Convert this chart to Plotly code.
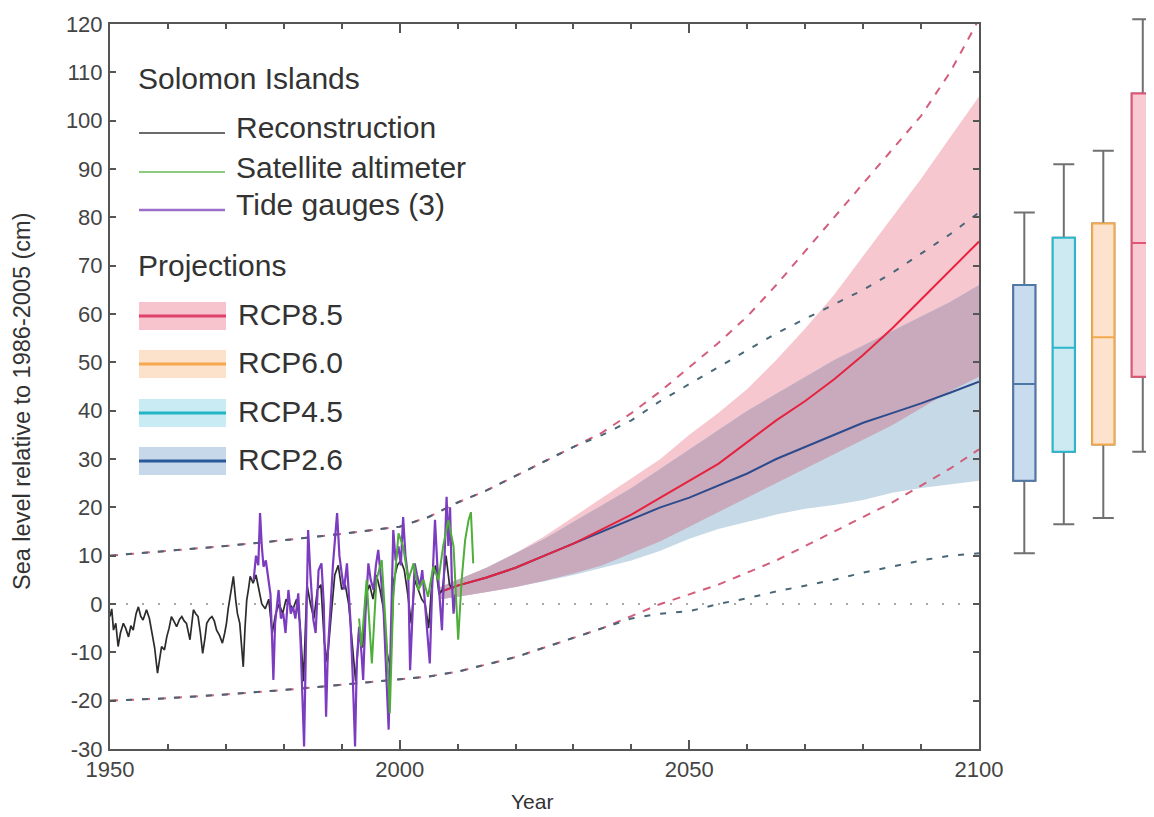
import plotly.graph_objects as go

# ---------------- data ----------------
recon_years = [1950.0, 1950.3, 1950.6, 1951.0, 1951.4, 1951.8, 1952.3, 1952.7, 1953.2, 1953.6, 1954.0, 1954.5,
               1954.9, 1955.3, 1955.7, 1956.3, 1956.8, 1957.2, 1957.7, 1958.2, 1958.6, 1958.9, 1959.4, 1959.8,
               1960.2, 1960.6, 1961.0, 1961.5, 1962.0, 1962.4, 1962.8, 1963.2, 1963.8, 1964.4, 1964.8, 1965.2,
               1965.6, 1966.0, 1966.4, 1966.7, 1967.2, 1967.6, 1968.0, 1968.4, 1968.9, 1969.4, 1969.8, 1970.1,
               1970.4, 1970.7, 1971.0, 1971.3, 1971.7, 1972.0, 1972.4, 1972.7, 1973.0, 1973.3, 1973.6, 1973.9,
               1974.2, 1974.7, 1975.2, 1975.7, 1976.2, 1976.8, 1977.4, 1978.0, 1978.6, 1979.2, 1979.8, 1980.4,
               1981.0, 1981.6, 1982.2, 1982.8, 1983.4, 1984.0, 1984.6, 1985.2, 1985.8, 1986.4, 1987.0, 1987.5,
               1988.2, 1988.8, 1989.4, 1990.0, 1990.6, 1991.2, 1991.8, 1992.4, 1993.0, 1993.6, 1994.2, 1994.8,
               1995.4, 1996.0, 1996.6, 1997.2, 1997.8, 1998.4, 1999.0, 1999.6, 2000.2, 2000.8, 2001.4, 2002.0,
               2002.6, 2003.2, 2003.8, 2004.4, 2005.0, 2005.6, 2006.2, 2006.8, 2007.4, 2008.0, 2008.6, 2009.2]
recon_values = [-2.6, -1, -5.4, -4, -8.8, -6, -4, -5, -6.8, -4.5, -5.4, -2,
                -0.6, -2.5, -3.3, -1.2, -3, -5.4, -9, -14.3, -11, -8.8, -9.5, -6.8,
                -5, -2.6, -3.5, -4.7, -3.2, -2.6, -3.5, -4, -7.4, -1.2, -2, -2.6,
                -6, -10.2, -7, -4, -3, -2.6, -3.5, -5.4, -6.5, -8.1, -6, -4,
                -1, 1.5, 3, 5.7, 0.8, -2, -4, -8, -13, -5, 0.8, 3,
                5.7, 4.3, 6, 3, 0, -1, 1, -6, -2, 0, -2, 1,
                0, -1, 1, -4, -16, 4, 0, -3, 3, 4, -8, -12,
                -2, 6, 8, 3, 4, 0, -8, -16, -5, -9, 2, 4,
                1, 6, 3, -1, -10, -13, 5, 8, 9, 7, 2, -4,
                5, 3, 1, 0, -5, 5, 8, 2, 3, 10, 4, 3]

tide_years = [1974.8, 1975.2, 1975.6, 1975.9, 1976.2, 1976.5, 1976.9, 1977.3, 1977.7, 1978.0, 1978.2, 1978.5,
              1978.8, 1979.1, 1979.5, 1979.9, 1980.3, 1980.8, 1981.2, 1981.6, 1982.0, 1982.5, 1982.9, 1983.2,
              1983.5, 1983.8, 1984.2, 1984.6, 1985.1, 1985.5, 1986.0, 1986.5, 1986.9, 1987.3, 1987.6, 1988.0,
              1988.5, 1989.2, 1989.6, 1990.0, 1990.4, 1990.9, 1991.2, 1991.5, 1991.9, 1992.3, 1992.6, 1993.0,
              1993.4, 1993.7, 1994.1, 1994.6, 1995.0, 1995.5, 1995.9, 1996.3, 1996.8, 1997.2, 1997.6, 1998.1,
              1998.5, 1998.9, 1999.3, 1999.8, 2000.2, 2000.6, 2001.0, 2001.5, 2001.8, 2002.2, 2002.6, 2003.0,
              2003.5, 2003.9, 2004.4, 2004.8, 2005.2, 2005.6, 2006.1, 2006.5, 2007.0, 2007.3, 2007.7, 2008.1,
              2008.4, 2008.7, 2009.0, 2009.3, 2009.6]
tide_values = [5, 10, 8, 18.8, 12, 7.7, 9, 5, 2, -8, -15.7, -4,
               0, 2.9, -3, -1.9, -6, 2.9, -2, -0.6, -3, 2.2, -8, -20,
               -29.5, -10, 15.3, 6, -3.3, -6, 7, 8.4, 0, -23.3, -10, -1.9,
               8.4, 18.8, 10, 6.3, 3, 8.4, 2, -3.3, -15, -29.5, -12, -4.7,
               -10, -15.7, -2, 8.4, 5, 2.9, 8, 11.2, 5, -0.6, -12, -26,
               -5, 15.3, 9, 11.9, 8, 18, 10, 5, -13.7, -2, 8.4, 6,
               3.6, 7, -0.6, -6, -12.3, 3, 17.4, 8, -1.9, -5.4, 8, 22.2,
               12, 20, 5, -2, 2]

sat_years = [1993.0, 1993.4, 1994.3, 1995.2, 1996.0, 1996.9, 1997.8, 1998.3, 1998.9, 1999.8, 2000.6, 2001.5,
             2002.4, 2003.2, 2004.1, 2004.9, 2005.8, 2006.7, 2007.5, 2008.4, 2009.3, 2010.1, 2010.7, 2011.3,
             2011.9, 2012.3, 2012.7]
sat_values = [-3, -8.8, 5, -12.3, 5, 9.1, -8.8, -22.6, 1.5, 14.6, 11.9, 5,
              8.4, 2.9, 5, 1.5, 7.7, 5, 11.9, 17.4, 11.9, -7.4, 5, 13.2,
              17.4, 19, 8.4]

proj_years = [2007, 2010, 2015, 2020, 2025, 2030, 2035, 2040, 2045, 2050,
              2055, 2060, 2065, 2070, 2075, 2080, 2085, 2090, 2095, 2100]
rcp85_median = [2.5, 3.8, 5.5, 7.5, 10, 12.5, 15.5, 18.5, 22, 25.5,
                29, 33.5, 38, 42, 46.5, 51.5, 57, 63, 69, 75]
rcp85_high = [3.5, 5, 7.5, 10.5, 14, 18, 22, 26, 30, 35,
              39.5, 44.5, 50.5, 57, 64, 72, 80, 88, 96.5, 105]
rcp85_low = [1, 1.5, 2.5, 3.5, 4.8, 6.3, 8, 10.5, 13, 16,
             19, 22, 25, 28, 31, 34, 37, 40.5, 44, 47]
rcp26_median = [2.5, 3.8, 5.5, 7.5, 10, 12.5, 15, 17.5, 20, 22,
                24.5, 27, 30, 32.5, 35, 37.5, 39.5, 41.5, 43.7, 46]
rcp26_high = [3.5, 5, 7.5, 10.5, 13.5, 17, 20.5, 24, 28, 32,
              36, 40, 43.5, 47, 50.5, 53.5, 56.5, 59.5, 62.5, 66]
rcp26_low = [1, 1.5, 2.5, 3.5, 4.7, 6, 7.5, 9, 11, 13.5,
             15.5, 17, 18.5, 19.7, 20.5, 21.5, 23, 24, 24.8, 25.5]

env_years = [1950, 1960, 1970, 1980, 1990, 2000, 2005, 2010, 2015, 2020, 2025, 2030, 2035,
             2040, 2045, 2050, 2055, 2060, 2065, 2070, 2075, 2080, 2085, 2090, 2095, 2100]
rcp85_env_high = [10, 11, 12, 13.2, 14.5, 16, 18, 21, 23.5, 26.5, 29.5, 32.5, 35.5,
                  39.5, 44, 49, 54, 59.5, 66, 73, 80, 87, 94, 101, 110, 121]
rcp26_env_high = [10, 11, 12, 13.2, 14.5, 16, 18, 21, 23.5, 26.5, 29.5, 32.5, 35,
                  38, 42, 45.5, 49, 52.5, 56, 59, 62, 65, 68.5, 72.5, 76.5, 81]
rcp85_env_low = [-20, -19.5, -18.7, -17.8, -16.7, -15.5, -15, -14, -12.5, -11, -9, -7, -5,
                 -2.5, 0, 2, 4, 6.5, 9, 12, 15, 18, 21, 24.5, 28, 32]
rcp26_env_low = [-20, -19.5, -18.7, -17.8, -16.7, -15.5, -15, -14, -12.5, -11, -9, -7, -5,
                 -3, -2, -1.5, 0, 1.2, 2.6, 3.8, 5, 6.5, 7.8, 9, 10, 10.5]

zero_years = [1950, 2100]
zero_values = [0, 0]

box_labels = ["RCP2.6", "RCP4.5", "RCP6.0", "RCP8.5"]
box_low = [10.5, 16.5, 17.8, 31.5]
box_q1 = [25.5, 31.5, 33, 47]
box_med = [45.5, 53, 55.2, 74.7]
box_q3 = [66, 75.8, 78.7, 105.6]
box_high = [81, 91, 93.8, 121]

x_ticks = [1950, 2000, 2050, 2100]
y_ticks = [-30, -20, -10, 0, 10, 20, 30, 40, 50, 60, 70, 80, 90, 100, 110, 120]
y_tick_text = [str(v) for v in y_ticks]

# ---------------- styling ----------------
FONT = "Liberation Sans, Arial, Helvetica, sans-serif"
OFF = 8                      # page body margin of the browser
W, H = 1154 - OFF, 817 - OFF
ML, MR, MT, MB = 110 - OFF, 0, 6, 68
PW, PH = W - ML - MR, H - MT - MB
AX = "#555555"
TXT = "#333333"
LEG = 30

def px(x):
    """reference-window pixel x -> paper fraction"""
    return (x - OFF - ML) / PW

def py(y):
    """reference-window pixel y -> paper fraction"""
    return 1 - (y - OFF - MT) / PH

box_fill = ["#c9dbee", "#cdeaf3", "#fde3cd", "#f8cbd3"]
box_line = ["#4f78a6", "#2cb8cc", "#f3aa4c", "#e05574"]

overlap_low = [max(a, b) for a, b in zip(rcp85_low, rcp26_low)]
overlap_high = [min(a, b) for a, b in zip(rcp85_high, rcp26_high)]

fig = go.Figure()

# zero reference line
fig.add_trace(go.Scatter(x=zero_years, y=zero_values, mode="lines",
                         line=dict(color="#a8a8a8", width=2, dash="2px,14px"), hoverinfo="skip"))

# bands
def band(low, high, color):
    fig.add_trace(go.Scatter(x=proj_years, y=low, mode="lines", line=dict(width=0),
                             hoverinfo="skip"))
    fig.add_trace(go.Scatter(x=proj_years, y=high, mode="lines", line=dict(width=0),
                             fill="tonexty", fillcolor=color, hoverinfo="skip"))

band(rcp85_low, rcp85_high, "#f7c7d0")
band(rcp26_low, rcp26_high, "#c6d9e6")
band(overlap_low, overlap_high, "#c9aabd")

# dashed envelopes
for vals in (rcp85_env_high, rcp85_env_low):
    fig.add_trace(go.Scatter(x=env_years, y=vals, mode="lines",
                             line=dict(color="#d35e7b", width=2, dash="8px,8px"), hoverinfo="skip"))
for vals in (rcp26_env_high, rcp26_env_low):
    fig.add_trace(go.Scatter(x=env_years, y=vals, mode="lines",
                             line=dict(color="#476676", width=2, dash="6px,10px"), hoverinfo="skip"))

# medians
fig.add_trace(go.Scatter(x=proj_years, y=rcp26_median, mode="lines",
                         line=dict(color="#2d4b8c", width=2), hoverinfo="skip"))
fig.add_trace(go.Scatter(x=proj_years, y=rcp85_median, mode="lines",
                         line=dict(color="#e6223e", width=2), hoverinfo="skip"))

# observations
fig.add_trace(go.Scatter(x=recon_years, y=recon_values, mode="lines",
                         line=dict(color="#2b2b2b", width=1.7), hoverinfo="skip"))
fig.add_trace(go.Scatter(x=tide_years, y=tide_values, mode="lines",
                         line=dict(color="#7b3cc0", width=2.2), hoverinfo="skip"))
fig.add_trace(go.Scatter(x=sat_years, y=sat_values, mode="lines",
                         line=dict(color="#4fae3a", width=2), hoverinfo="skip"))

# box plots for 2100
for i, lab in enumerate(box_labels):
    fig.add_trace(go.Box(x=[lab], q1=[box_q1[i]], median=[box_med[i]], q3=[box_q3[i]],
                         lowerfence=[box_low[i]], upperfence=[box_high[i]],
                         xaxis="x2", yaxis="y2", width=0.56, whiskerwidth=0.95,
                         line=dict(color="#707070", width=2), fillcolor=box_fill[i],
                         boxpoints=False, hoverinfo="skip"))
    fig.add_trace(go.Box(x=[lab], q1=[box_q1[i]], median=[box_med[i]], q3=[box_q3[i]],
                         lowerfence=[box_q1[i]], upperfence=[box_q3[i]],
                         xaxis="x2", yaxis="y2", width=0.56, whiskerwidth=0,
                         line=dict(color=box_line[i], width=2), fillcolor=box_fill[i],
                         boxpoints=False, hoverinfo="skip"))

# ---------------- legend (drawn) ----------------
shapes = []
annotations = []

def text(x, y, s, size):
    annotations.append(dict(x=px(x), y=py(y), xref="paper", yref="paper", text=s,
                            showarrow=False, xanchor="left", yanchor="middle",
                            font=dict(family=FONT, size=size, color=TXT)))

text(136, 78, "Solomon Islands", LEG)
obs_leg = [("Reconstruction", "#3a3a3a", 1.6, 133), ("Satellite altimeter", "#8fcb7f", 2, 172),
           ("Tide gauges (3)", "#9a6fcc", 2.5, 210)]
for name, col, wd, yy in obs_leg:
    shapes.append(dict(type="line", xref="paper", yref="paper", x0=px(139), x1=px(225),
                       y0=py(yy), y1=py(yy), line=dict(color=col, width=wd)))
    text(234, yy - 5, name, LEG)

text(136, 265, "Projections", LEG)
proj_leg = [("RCP8.5", "#f7c4cd", "#e0406a", 316), ("RCP6.0", "#fde2cb", "#f5a84e", 364),
            ("RCP4.5", "#c9ebf4", "#22b5c6", 413), ("RCP2.6", "#c6d8ea", "#2a5a9a", 461)]
for name, fc, lc, yy in proj_leg:
    shapes.append(dict(type="rect", xref="paper", yref="paper", x0=px(139), x1=px(226),
                       y0=py(yy - 14), y1=py(yy + 14), fillcolor=fc, line=dict(width=0), layer="above"))
    shapes.append(dict(type="line", xref="paper", yref="paper", x0=px(139), x1=px(226),
                       y0=py(yy), y1=py(yy), line=dict(color=lc, width=3), layer="above"))
    text(236, yy - 2, name, LEG)

# axis titles
annotations.append(dict(x=px(532), y=py(801), xref="paper", yref="paper", text="Year",
                        showarrow=False, xanchor="center", yanchor="middle",
                        font=dict(family=FONT, size=21, color=TXT)))
annotations.append(dict(x=px(22), y=py(401), xref="paper", yref="paper",
                        text="Sea level relative to 1986-2005 (cm)", textangle=-90,
                        showarrow=False, xanchor="center", yanchor="middle",
                        font=dict(family=FONT, size=23.5, color=TXT)))

y_top_frac = py(24)                     # main axis top at reference pixel 24
scale = (749 - 24) / 150.0              # pixels per cm

fig.update_layout(
    width=W, height=H,
    margin=dict(l=ML, r=MR, t=MT, b=MB, pad=0, autoexpand=False),
    paper_bgcolor="white", plot_bgcolor="white",
    showlegend=False,
    boxmode="overlay",
    font=dict(family=FONT, size=22, color=TXT),
    xaxis=dict(domain=[0, px(979)], range=[1950, 2100], tickvals=x_ticks,
               ticks="inside", ticklen=9, tickwidth=1.5, tickcolor=AX,
               showline=True, linecolor=AX, linewidth=2, mirror="ticks",
               showgrid=False, zeroline=False, ticklabelstandoff=0, automargin=False,
               minor=dict(tick0=1950, dtick=10, ticks="inside", ticklen=5, tickwidth=1.5,
                          tickcolor=AX, showgrid=False),
               tickfont=dict(family=FONT, size=22, color="#444444")),
    yaxis=dict(domain=[0, y_top_frac], range=[-30, 120], tickvals=y_ticks, ticktext=y_tick_text,
               ticks="inside", ticklen=6, tickwidth=1.5, tickcolor=AX,
               showline=True, linecolor=AX, linewidth=2, mirror="ticks",
               showgrid=False, zeroline=False, ticklabelstandoff=1, automargin=False,
               tickfont=dict(family=FONT, size=22, color="#444444")),
    xaxis2=dict(domain=[px(979), 1], anchor="y2", type="category",
                categoryorder="array", categoryarray=box_labels,
                range=[-1.147, 3.284], visible=False, automargin=False),
    yaxis2=dict(domain=[0, 1], anchor="x2", range=[-30, -30 + PH / scale], visible=False,
                automargin=False),
    shapes=shapes,
    annotations=annotations,
)

fig.write_html("out.html")
